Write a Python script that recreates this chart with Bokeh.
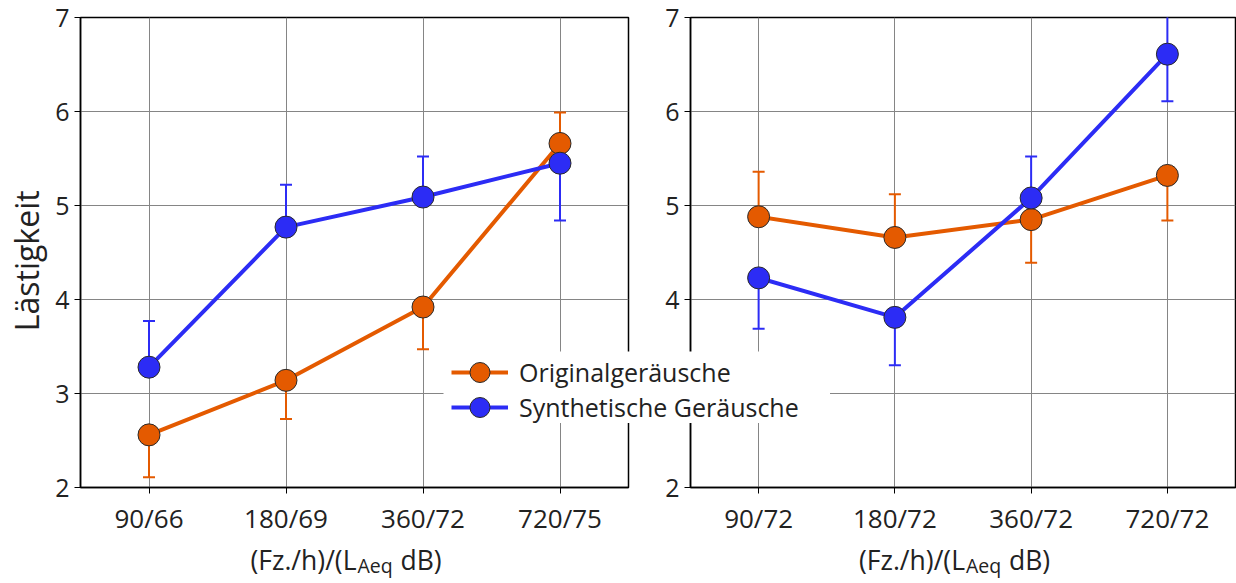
import numpy as np
from bokeh.plotting import figure
from bokeh.layouts import row, column
from bokeh.models import FactorRange, Range1d, FixedTicker, Legend, LegendItem
from bokeh.core.properties import value
from bokeh.embed import file_html
from bokeh.resources import INLINE

# ---------------- data ----------------
cats_left = ["90/66", "180/69", "360/72", "720/75"]
cats_right = ["90/72", "180/72", "360/72", "720/72"]
y_ticks = [2, 3, 4, 5, 6, 7]

# left panel: Originalgeräusche (mean, lower end, upper end of error bar)
orig_left = [2.56, 3.14, 3.92, 5.66]
orig_left_lo = [2.11, 2.73, 3.47, 5.66]
orig_left_hi = [2.56, 3.14, 3.92, 5.99]
# left panel: Synthetische Geräusche
synt_left = [3.28, 4.77, 5.09, 5.45]
synt_left_lo = [3.28, 4.77, 5.09, 4.84]
synt_left_hi = [3.77, 5.22, 5.52, 5.45]

# right panel: Originalgeräusche
orig_right = [4.88, 4.66, 4.85, 5.32]
orig_right_lo = [4.88, 4.66, 4.39, 4.84]
orig_right_hi = [5.36, 5.12, 4.85, 5.32]
# right panel: Synthetische Geräusche
synt_right = [4.23, 3.81, 5.08, 6.61]
synt_right_lo = [3.69, 3.30, 5.08, 6.11]
synt_right_hi = [4.23, 3.81, 5.52, 7.11]

series_names = ["Originalgeräusche", "Synthetische Geräusche"]
y_label = "Lästigkeit"
x_title = ["(Fz./h)/(L", "Aeq", "dB)"]

ORANGE = "#E45A00"
BLUE = "#2C2CF5"
EDGE = "#2a2a2a"
FONT = "Open Sans"
TXT = "#222222"
PAD = "\u00a0" * 4  # trailing pad: tick labels sit slightly left of their ticks


def make_panel(cats, width, bl, br, ylabel):
    p = figure(x_range=FactorRange(*cats), y_range=Range1d(2, 7),
               width=width, height=538, output_backend="svg", toolbar_location=None,
               min_border_left=bl, min_border_right=br, min_border_top=17, min_border_bottom=51)
    p.x_range.range_padding = 0
    p.outline_line_color = "black"
    p.outline_line_width = 1.5
    p.xgrid.grid_line_color = "#858585"
    p.ygrid.grid_line_color = "#858585"
    p.yaxis.ticker = FixedTicker(ticks=y_ticks)
    for ax in (p.xaxis[0], p.yaxis[0]):
        ax.axis_line_color = "black"
        ax.axis_line_width = 1.5
        ax.major_tick_line_color = "black"
        ax.major_tick_out = 6
        ax.major_tick_in = 0
        ax.minor_tick_line_color = None
        ax.major_label_text_font = FONT
        ax.major_label_text_color = TXT
    p.xaxis.major_label_overrides = {c: c + PAD for c in cats}
    p.xaxis.major_label_text_font_size = "26px"
    p.yaxis.major_label_text_font_size = "25px"
    p.xaxis.major_label_standoff = 6
    p.yaxis.major_label_standoff = 5
    if ylabel:
        p.yaxis.axis_label = ylabel + "\u00a0\u00a0"
        p.yaxis.axis_label_text_font = FONT
        p.yaxis.axis_label_text_font_size = "32px"
        p.yaxis.axis_label_text_font_style = "normal"
        p.yaxis.axis_label_text_color = TXT
        p.yaxis.axis_label_standoff = 4
    return p


def make_title(xr, width, bl, br):
    # transparent strip under a panel, sharing its x range, holding the axis title
    t = figure(x_range=xr, y_range=Range1d(0, 1), width=width, height=65,
               output_backend="svg", toolbar_location=None,
               x_axis_location=None, y_axis_location=None,
               min_border_left=bl, min_border_right=br, min_border_top=0, min_border_bottom=0)
    t.grid.visible = False
    t.outline_line_color = None
    t.border_fill_color = None
    t.background_fill_color = None
    common = dict(text_font=value(FONT), text_color=TXT, text_baseline="alphabetic")
    t.text(x=[2.0], y=[0.355], text=[x_title[0]], text_align="right", x_offset=2,
           text_font_size="26.5px", **common)
    t.text(x=[2.0], y=[0.355], text=[x_title[1]], text_align="left", x_offset=3, y_offset=5,
           text_font_size="19.5px", **common)
    t.text(x=[2.0], y=[0.355], text=[x_title[2]], text_align="left", x_offset=46,
           text_font_size="26.5px", **common)
    t.styles = {"margin-top": "-20px"}
    return t


def draw_series(p, cats, mean, lo, hi, color):
    # error bars (only the drawn sides)
    for ends in (lo, hi):
        xs = [c for c, m, e in zip(cats, mean, ends) if e != m]
        ms = [m for m, e in zip(mean, ends) if e != m]
        es = [e for m, e in zip(mean, ends) if e != m]
        p.segment(x0=xs, y0=ms, x1=xs, y1=es, line_color=color, line_width=2)
        p.scatter(x=xs, y=es, marker="dash", size=12, line_color=color, line_width=2)
    ln = p.line(x=cats, y=mean, line_color=color, line_width=4)
    mk = p.scatter(x=cats, y=mean, marker="circle", size=22, fill_color=color,
                   line_color=EDGE, line_width=1)
    return ln, mk


p1 = make_panel(cats_left, 640, 80, 12, y_label)
p1.border_fill_color = "white"
draw_series(p1, cats_left, orig_left, orig_left_lo, orig_left_hi, ORANGE)
draw_series(p1, cats_left, synt_left, synt_left_lo, synt_left_hi, BLUE)
t1 = make_title(p1.x_range, 640, 80, 12)

p2 = make_panel(cats_right, 596, 50, 1, None)
p2.border_fill_color = "white"
draw_series(p2, cats_right, orig_right, orig_right_lo, orig_right_hi, ORANGE)
draw_series(p2, cats_right, synt_right, synt_right_lo, synt_right_hi, BLUE)
t2 = make_title(p2.x_range, 596, 50, 1)

# white legend box laid over both panels
p3 = figure(width=387, height=72, x_range=Range1d(0, 1), y_range=Range1d(0, 1),
            output_backend="svg", toolbar_location=None, min_border=0,
            x_axis_location=None, y_axis_location=None)
p3.grid.visible = False
p3.outline_line_color = None
p3.background_fill_color = "white"
p3.border_fill_color = "white"
nan = np.array([np.nan])
for name, color, loc in zip(series_names, [ORANGE, BLUE], [(8, 26), (8, -9)]):
    r_ln = p3.line(x=nan, y=nan, line_color=color, line_width=4)
    r_mk = p3.scatter(x=nan, y=nan, marker="circle", size=20, fill_color=color,
                      line_color=EDGE, line_width=1)
    lg = Legend(items=[LegendItem(label=name, renderers=[r_ln, r_mk])], location=loc,
                background_fill_alpha=0.0, border_line_color=None,
                label_text_font=FONT, label_text_font_size="25px", label_text_color=TXT,
                glyph_width=57, glyph_height=50, padding=0, margin=0, label_standoff=11)
    p3.add_layout(lg)
p3.styles = {"position": "absolute", "left": "443px", "top": "351px"}

col1 = column(p1, t1, spacing=0)
col2 = column(p2, t2, spacing=0)
layout = row(col1, col2, p3, spacing=0)
open("out.html", "w").write(file_html(layout, INLINE))
